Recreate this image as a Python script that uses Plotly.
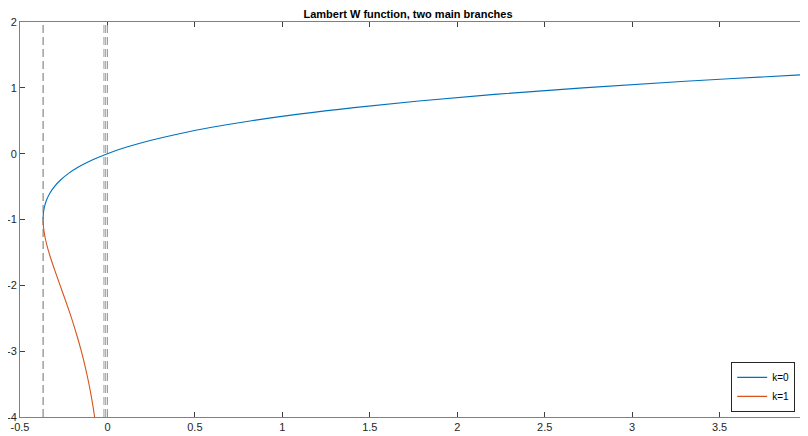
import plotly.graph_objects as go

# Principal branch k=0
w0_x = [-0.3679, -0.3674, -0.3659, -0.3633, -0.3595, -0.3476, -0.3293, -0.3033, -0.2681,
        -0.2222, -0.1637, -0.0905, 0.0, 0.1105, 0.2443, 0.4050, 0.5967, 0.8244, 1.0933,
        1.4096, 1.7804, 2.2136, 2.7183, 3.3046, 3.9841, 4.0]
w0_y = [-1.0, -0.95, -0.9, -0.85, -0.8, -0.7, -0.6, -0.5, -0.4,
        -0.3, -0.2, -0.1, 0.0, 0.1, 0.2, 0.3, 0.4, 0.5, 0.6,
        0.7, 0.8, 0.9, 1.0, 1.1, 1.2, 1.2022]

# Lower branch (labelled k=1 in the chart)
wm1_x = [-0.3679, -0.3674, -0.3662, -0.3614, -0.3543, -0.3452, -0.3347, -0.3230, -0.2975,
         -0.2707, -0.2438, -0.2177, -0.1931, -0.1703, -0.1494, -0.1304, -0.1135, -0.0984,
         -0.0850, -0.0733]
wm1_y = [-1.0, -1.05, -1.1, -1.2, -1.3, -1.4, -1.5, -1.6, -1.8,
         -2.0, -2.2, -2.4, -2.6, -2.8, -3.0, -3.2, -3.4, -3.6,
         -3.8, -4.0]

# Vertical dashed reference lines
vline_branch = [-0.3679]
vline_zero = [-0.02, -0.01, 0.0]

x_ticks = [-0.5, 0, 0.5, 1, 1.5, 2, 2.5, 3, 3.5, 4]
x_tick_labels = ["-0.5", "0", "0.5", "1", "1.5", "2", "2.5", "3", "3.5", "4"]
y_ticks = [-4, -3, -2, -1, 0, 1, 2]
y_tick_labels = ["-4", "-3", "-2", "-1", "0", "1", "2"]

fig = go.Figure()
fig.add_trace(go.Scatter(x=w0_x, y=w0_y, mode="lines", name="k=0",
                         line=dict(color="#0072BD", width=1.1, shape="spline")))
fig.add_trace(go.Scatter(x=wm1_x, y=wm1_y, mode="lines", name="k=1",
                         line=dict(color="#D95319", width=1.1, shape="spline")))

for xv in vline_branch:
    fig.add_shape(type="line", xref="x", yref="paper", x0=xv, x1=xv, y0=0, y1=1,
                  line=dict(color="#707070", width=1, dash="8px,4px"))
for xv in vline_zero:
    fig.add_shape(type="line", xref="x", yref="paper", x0=xv, x1=xv, y0=0, y1=1,
                  line=dict(color="#9a9a9a", width=1, dash="8px,4px"))

axis_common = dict(showgrid=False, zeroline=False, showline=True, linecolor="#808080",
                   linewidth=1, mirror="ticks", ticks="inside", ticklen=5,
                   tickcolor="#404040", automargin=False, ticklabeloverflow="allow",
                   tickfont=dict(family="Liberation Sans, Arial", size=11, color="#262626"))

# page body has an 8px margin, so the figure is sized/offset to compensate
fig.update_layout(
    width=800, height=428,
    margin=dict(l=12, r=1, t=14, b=19),
    paper_bgcolor="white", plot_bgcolor="white",
    title=dict(text="<b>Lambert W function, two main branches</b>", x=0.5, xanchor="center",
               y=0.986, yanchor="middle",
               font=dict(family="Liberation Sans, Arial", size=11, color="black")),
    xaxis=dict(range=[-0.5, 4], tickvals=x_ticks, ticktext=x_tick_labels, **axis_common),
    yaxis=dict(range=[-4, 2], tickvals=y_ticks, ticktext=y_tick_labels, **axis_common),
    legend=dict(x=0.985, y=0.013, xanchor="right", yanchor="bottom",
                bgcolor="white", bordercolor="#262626", borderwidth=1,
                font=dict(family="Liberation Sans, Arial", size=10, color="black"),
                tracegroupgap=0, itemwidth=30),
    showlegend=True,
)

fig.write_html("out.html")
